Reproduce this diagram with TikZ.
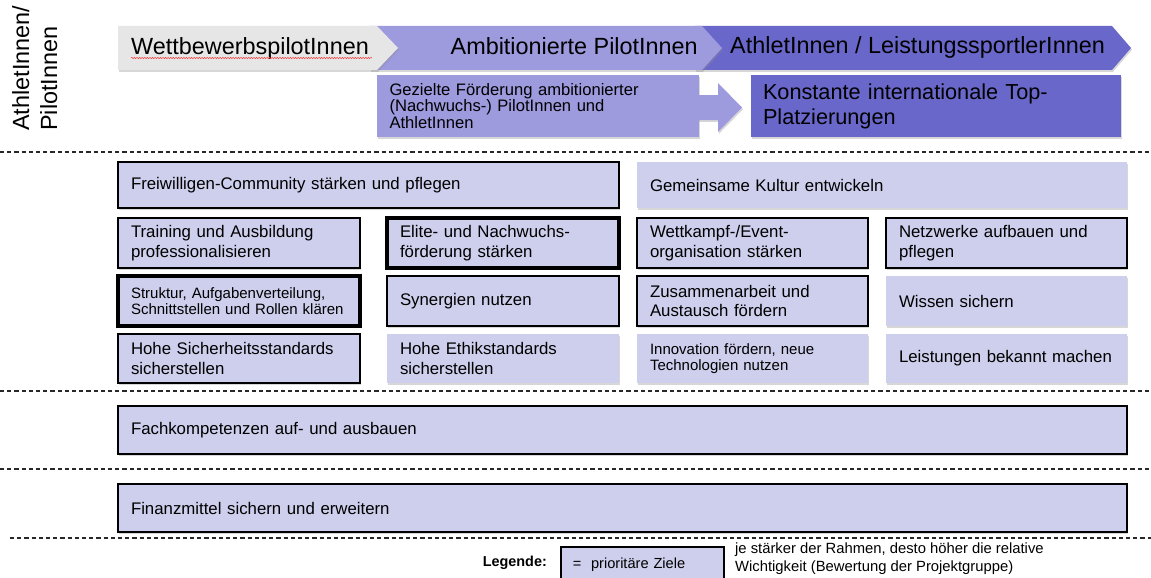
\documentclass[tikz,border=0pt]{standalone}
\usepackage{fontspec}
\setmainfont{Liberation Sans}
\usetikzlibrary{shadows,decorations.pathmorphing}
\definecolor{lav}{RGB}{206,206,237}
\definecolor{lightp}{RGB}{157,154,222}
\definecolor{darkp}{RGB}{106,103,202}
\definecolor{grayc}{RGB}{230,230,230}
\definecolor{dashc}{RGB}{40,40,40}
\tikzset{
  shad/.style={drop shadow={shadow xshift=1pt,shadow yshift=-1.8pt,opacity=0.35,fill=black!45}},
  goal/.style={fill=lav,shad,inner xsep=13pt,inner ysep=0pt,align=left,
    font=\fontsize{16.8}{19.5}\selectfont},
  small/.style={font=\fontsize{15}{16.5}\selectfont},
  thinb/.style={draw=black,line width=1.5pt},
  medb/.style={draw=black,line width=2.1pt},
  thickb/.style={draw=black,line width=2.7pt},
  vthickb/.style={draw=black,line width=3.3pt},
  sep/.style={draw=dashc,line width=1.2pt,dash pattern=on 4.2pt off 3pt},
  chev/.style={font=\fontsize{23.4}{26}\selectfont,inner sep=0pt},
}
\newcommand\gbox[7]{%
  \pgfmathsetmacro\gw{#4-#2}%
  \pgfmathsetmacro\gh{#5-#3}%
  \pgfmathsetmacro\gtw{#4-#2-26}%
  \node[goal,#6,minimum width=\gw pt,minimum height=\gh pt,text width=\gtw pt] (#1) at ({(#2+#4)/2},{(#3+#5)/2}) {#7};}
\begin{document}
\begin{tikzpicture}[x=1pt,y=-1pt]
\useasboundingbox (0,0) rectangle (1151,578);

% vertical label
\node[rotate=90,anchor=north west,inner sep=0pt,align=left,
  font=\fontsize{23.4}{28}\selectfont] (side) at (12,131) {AthletInnen/\\PilotInnen};

% chevrons
\fill[darkp,shad] (695,26) -- (1112,26) -- (1131,48) -- (1112,70) -- (695,70) -- cycle;
\fill[lightp,shad] (370,26) -- (702,26) -- (722,48) -- (702,70) -- (370,70) -- cycle;
\fill[grayc,shad] (118,26) -- (377,26) -- (398,48) -- (377,70) -- (118,70) -- cycle;
\node[chev,anchor=base west] (c1) at (131,55) {WettbewerbspilotInnen};
\node[chev,anchor=base east] (c2) at (698,55) {Ambitionierte PilotInnen};
\node[chev,anchor=base west] (c3) at (730,54) {AthletInnen / LeistungssportlerInnen};
\draw[red!80,line width=0.45pt,decorate,decoration={snake,amplitude=0.7pt,segment length=2.6pt}] (131,58) -- (372,58);

% goal boxes top
\node[fill=lightp,shad,minimum width=322pt,minimum height=62pt,text width=297pt,inner xsep=12.5pt,inner ysep=0pt,align=left,
  font=\fontsize{16.6}{16.5}\selectfont] (gez) at (538,106)
  {Gezielte Förderung ambitionierter\\(Nachwuchs-) PilotInnen und\\AthletInnen};
\node[fill=darkp,shad,minimum width=370pt,minimum height=62pt,text width=346pt,inner xsep=12pt,inner ysep=0pt,align=left,
  font=\fontsize{21.7}{25}\selectfont] (kon) at (936,106)
  {Konstante internationale Top-\\Platzierungen};
\coordinate (aS) at (gez.east);
\fill[lightp,shad] (698,95) -- (718,95) -- (718,83) -- (742,107.5) -- (718,132) -- (718,120) -- (698,120) -- cycle;

% separators
\draw[sep] (0,152) -- (1151,152);
\draw[sep] (0,391) -- (1151,391);
\draw[sep] (0,469) -- (1151,469);
\draw[sep] (10,538) -- (1151,538);

% row 1
\gbox{fc}{118}{162}{619}{208}{thickb}{Freiwilligen-Community stärken und pflegen}
\gbox{gk}{637}{162}{1127}{208}{}{Gemeinsame Kultur entwickeln}
% row 2
\gbox{tr}{118}{218}{360}{268}{medb}{Training und Ausbildung\\professionalisieren}
\gbox{el}{387}{218}{619}{268}{vthickb}{Elite- und Nachwuchs-\\förderung stärken}
\gbox{wk}{637}{218}{868}{268}{thickb}{Wettkampf-/Event-\\organisation stärken}
\gbox{nw}{886}{218}{1127}{268}{thinb}{Netzwerke aufbauen und\\pflegen}
% row 3
\gbox{st}{118}{276}{360}{326}{vthickb,small}{Struktur, Aufgabenverteilung,\\Schnittstellen und Rollen klären}
\gbox{sy}{387}{276}{619}{326}{thickb}{Synergien nutzen}
\gbox{za}{637}{276}{868}{326}{medb}{Zusammenarbeit und\\Austausch fördern}
\gbox{ws}{886}{276}{1127}{326}{}{Wissen sichern}
% row 4
\gbox{hs}{118}{334}{360}{383}{thickb}{Hohe Sicherheitsstandards\\sicherstellen}
\gbox{he}{387}{334}{619}{383}{}{Hohe Ethikstandards\\sicherstellen}
\gbox{in}{637}{334}{868}{383}{small}{Innovation fördern, neue\\Technologien nutzen}
\gbox{lb}{886}{334}{1127}{383}{}{Leistungen bekannt machen}
% wide rows
\gbox{fk}{118}{406}{1127}{454}{medb}{Fachkompetenzen auf- und ausbauen}
\gbox{fm}{118}{484}{1127}{532}{medb}{Finanzmittel sichern und erweitern}

% legend
\node[anchor=east,inner sep=0pt,font=\bfseries\fontsize{14.4}{16}\selectfont] (leg) at (547,563) {Legende:};
\node[draw=black,line width=1.6pt,fill=lav,minimum width=163pt,minimum height=40pt,anchor=north west,
  inner xsep=12pt,text width=139pt,align=left,font=\fontsize{14.6}{16}\selectfont] (legbox) at (560,546) {\raisebox{8pt}{=\ \ prioritäre Ziele}};
\node[anchor=north west,inner sep=0pt,align=left,font=\fontsize{14.8}{18}\selectfont] (legtxt) at (735,543)
  {je stärker der Rahmen, desto höher die relative\\Wichtigkeit (Bewertung der Projektgruppe)};
\end{tikzpicture}
\end{document}
